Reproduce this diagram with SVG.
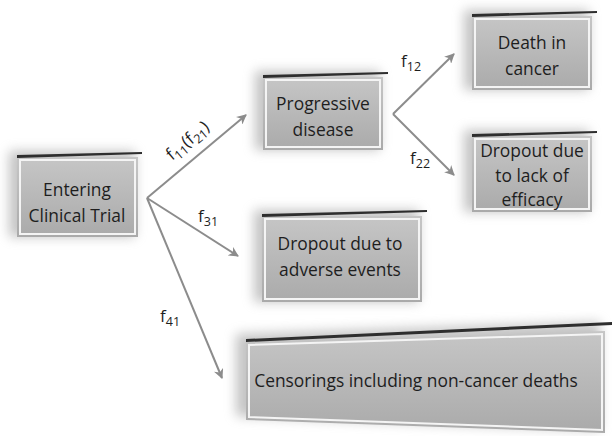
<svg xmlns="http://www.w3.org/2000/svg" width="612" height="436" viewBox="0 0 612 436">
  <style>
    .box { fill: url(#boxFill); }
    .rim { fill: none; stroke: #f4f4f4; stroke-width: 2; }
    .lid { fill: #2e2e2e; }
    .shadow { fill: #8a8a8a; opacity: 0.5; filter: url(#soft); }
    .lbl { font-family: "Open Sans", "Noto Sans", "Liberation Sans", sans-serif; font-size: 17.4px; fill: #1e1e1e; text-anchor: middle; }
    .f { font-family: "Open Sans", "Noto Sans", "Liberation Sans", sans-serif; font-size: 17px; fill: #1e1e1e; }
    .sub { font-size: 12.5px; }
    .link { stroke: #8c8c8c; stroke-width: 2; fill: none; marker-end: url(#head); }
  </style>
  <defs>
    <linearGradient id="boxFill" x1="0" y1="0" x2="0" y2="1">
      <stop offset="0" stop-color="#c6c6c6"/>
      <stop offset="1" stop-color="#aaaaaa"/>
    </linearGradient>
    <filter id="soft" x="-30%" y="-30%" width="160%" height="160%">
      <feGaussianBlur stdDeviation="6"/>
    </filter>
    <marker id="head" viewBox="0 0 10 10" refX="9" refY="5" markerWidth="5" markerHeight="5" orient="auto" markerUnits="strokeWidth">
      <path d="M0,0 L10,5 L0,10 L3,5 Z" fill="#8c8c8c"/>
    </marker>
  </defs>

  <rect width="612" height="436" fill="#ffffff"/>

  <!-- connectors -->
  <g id="connectors">
    <line class="link" x1="147" y1="198" x2="246" y2="115"/>
    <line class="link" x1="147" y1="198" x2="238" y2="256"/>
    <line class="link" x1="147" y1="198" x2="222" y2="378"/>
    <line class="link" x1="393" y1="114" x2="454" y2="54"/>
    <line class="link" x1="393" y1="114" x2="454" y2="175"/>
    <text class="f" transform="translate(172,161) rotate(-40)">f<tspan class="sub" dy="4">11</tspan><tspan dy="-4">(f</tspan><tspan class="sub" dy="4">21</tspan><tspan dy="-4">)</tspan></text>
    <text class="f" x="198" y="222">f<tspan class="sub" dy="4">31</tspan></text>
    <text class="f" x="160" y="322">f<tspan class="sub" dy="4">41</tspan></text>
    <text class="f" x="401" y="67">f<tspan class="sub" dy="4">12</tspan></text>
    <text class="f" x="410" y="164">f<tspan class="sub" dy="4">22</tspan></text>
  </g>

  <!-- Entering Clinical Trial -->
  <g id="node-entering">
    <rect class="shadow" x="9" y="151" width="126" height="86"/>
    <rect class="box" x="17" y="157" width="121" height="80"/>
    <rect class="rim" x="20" y="160" width="115" height="74"/>
    <polygon class="lid" points="17,155 142,152 142,154 17,158"/>
    <text class="lbl" x="77" y="196">Entering</text>
    <text class="lbl" x="77" y="222">Clinical Trial</text>
  </g>

  <!-- Progressive disease -->
  <g id="node-progressive">
    <rect class="shadow" x="255" y="71" width="125" height="79"/>
    <rect class="box" x="263" y="77" width="120" height="73"/>
    <rect class="rim" x="266" y="80" width="114" height="67"/>
    <polygon class="lid" points="263,75 388,72 388,74 263,78"/>
    <text class="lbl" x="323" y="110">Progressive</text>
    <text class="lbl" x="323" y="136">disease</text>
  </g>

  <!-- Death in cancer -->
  <g id="node-death">
    <rect class="shadow" x="464" y="10" width="125" height="80"/>
    <rect class="box" x="472" y="16" width="120" height="74"/>
    <rect class="rim" x="475" y="19" width="114" height="68"/>
    <polygon class="lid" points="472,14 597,11 597,13 472,17"/>
    <text class="lbl" x="532" y="49">Death in</text>
    <text class="lbl" x="532" y="75">cancer</text>
  </g>

  <!-- Dropout due to lack of efficacy -->
  <g id="node-efficacy">
    <rect class="shadow" x="464" y="130" width="125" height="82"/>
    <rect class="box" x="472" y="136" width="120" height="76"/>
    <rect class="rim" x="475" y="139" width="114" height="70"/>
    <polygon class="lid" points="472,134 597,131 597,133 472,137"/>
    <text class="lbl" x="532" y="157">Dropout due</text>
    <text class="lbl" x="532" y="182">to lack of</text>
    <text class="lbl" x="532" y="206">efficacy</text>
  </g>

  <!-- Dropout due to adverse events -->
  <g id="node-adverse">
    <rect class="shadow" x="254" y="210" width="165" height="92"/>
    <rect class="box" x="262" y="216" width="160" height="86"/>
    <rect class="rim" x="265" y="219" width="154" height="80"/>
    <polygon class="lid" points="262,214 427,210 427,212 262,217"/>
    <text class="lbl" x="340" y="250">Dropout due to</text>
    <text class="lbl" x="340" y="276">adverse events</text>
  </g>

  <!-- Censorings including non-cancer deaths -->
  <g id="node-censorings">
    <polygon class="shadow" points="236,334 600,322 600,430 236,416"/>
    <polygon class="box" points="246,342 605,331 605,433 246,420"/>
    <polygon class="rim" points="249,345 602,334 602,430 249,417"/>
    <polygon class="lid" points="246,339 612,322 612,325 246,342"/>
    <text class="lbl" x="416" y="387">Censorings including non-cancer deaths</text>
  </g>
</svg>
